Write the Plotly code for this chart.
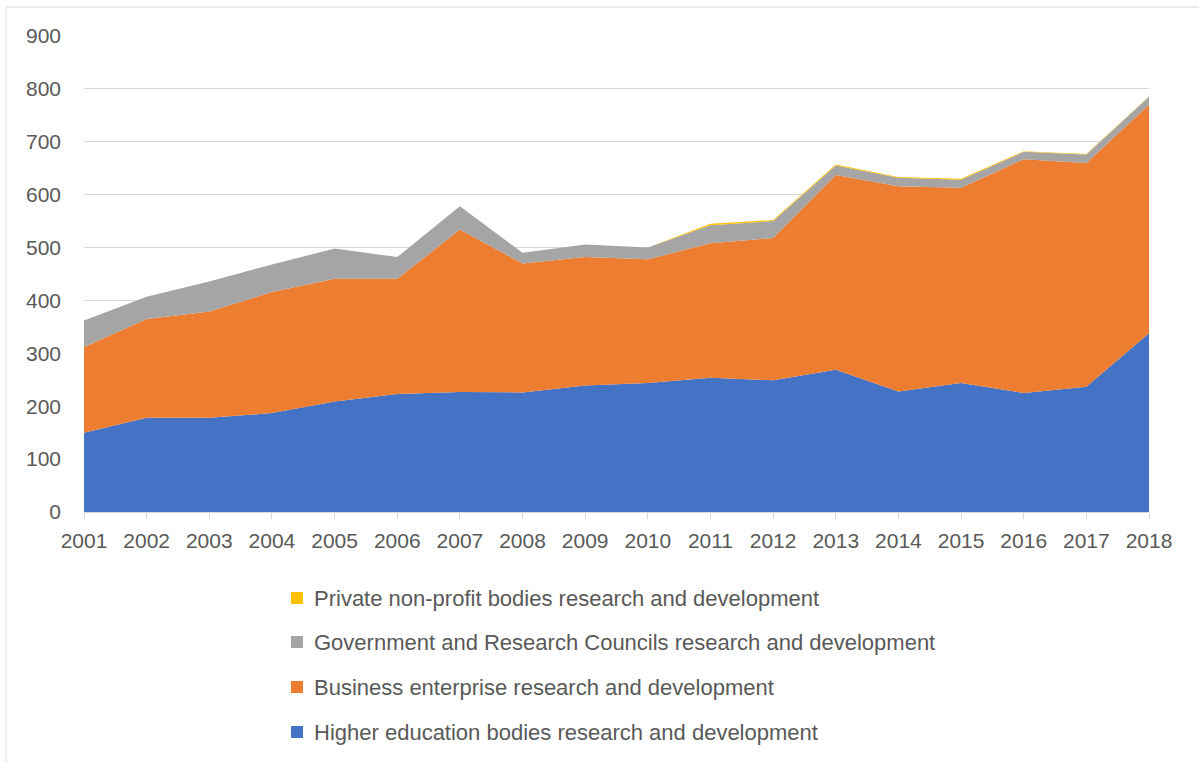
import plotly.graph_objects as go

years = [str(y) for y in range(2001, 2019)]
higher_ed = [150, 178, 178, 187, 209, 223, 227, 226, 239, 244, 254, 249, 269, 228, 244, 225, 237, 338]
business = [162, 187, 201, 229, 232, 218, 307, 244, 243, 234, 254, 269, 368, 388, 369, 442, 423, 432]
government = [50, 42, 57, 52, 57, 41, 44, 20, 24, 22, 34, 32, 18, 16, 15, 14, 16, 15]
private_np = [0, 0, 0, 0, 0, 0, 0, 0, 0, 0, 3, 2, 2, 1.5, 2, 1, 1, 0.5]

names = [
    "Higher education bodies research and development",
    "Business enterprise research and development",
    "Government and Research Councils research and development",
    "Private non-profit bodies research and development",
]
colors = ["#4472C4", "#ED7D31", "#A5A5A5", "#FFC000"]
series = [higher_ed, business, government, private_np]

fig = go.Figure()
for name, col, vals in zip(names, colors, series):
    fig.add_trace(go.Scatter(
        x=years, y=vals, name=name, stackgroup="one", mode="lines",
        line=dict(width=0, color=col), fillcolor=col, showlegend=False,
        hoverinfo="x+y+name",
    ))

W, H = 1199, 762
L, R, T, B = 84, 1149, 36, 512
def px(x):
    return (x - L) / (R - L)
def py(y):
    return (B - y) / (B - T)

GRID = "#d9d9d9"
TXT = "#595959"

# legend drawn as key squares + text (top to bottom: reversed stacking order)
legend_rows = [598, 642, 687, 732]
shapes = [
    dict(type="line", xref="paper", yref="paper", x0=px(6), x1=px(1199), y0=py(7), y1=py(7),
         line=dict(color=GRID, width=1)),
    dict(type="line", xref="paper", yref="paper", x0=px(6), x1=px(6), y0=py(7), y1=py(775),
         line=dict(color=GRID, width=1)),
]
annotations = []
for yrow, name, col in zip(legend_rows, names[::-1], colors[::-1]):
    shapes.append(dict(type="rect", xref="paper", yref="paper",
                       x0=px(291), x1=px(303), y0=py(yrow - 6), y1=py(yrow + 6),
                       fillcolor=col, line=dict(width=0)))
    annotations.append(dict(xref="paper", yref="paper", x=px(312), y=py(yrow),
                            xanchor="left", yanchor="middle", showarrow=False,
                            text=name, font=dict(size=22, color=TXT)))

fig.update_layout(
    width=W, height=H,
    margin=dict(l=L, r=W - R, t=T, b=H - B),
    paper_bgcolor="white", plot_bgcolor="white",
    font=dict(family="Liberation Sans, Arial, sans-serif", size=21, color=TXT),
    showlegend=False,
    xaxis=dict(
        type="category", range=[0, 17], showgrid=False,
        showline=True, linecolor=GRID, linewidth=1,
        ticks="outside", ticklen=6, tickcolor=GRID, ticklabelstandoff=4,
        tickfont=dict(size=21, color=TXT),
    ),
    yaxis=dict(
        range=[0, 900], dtick=100, showgrid=True, gridcolor=GRID, gridwidth=1,
        zeroline=False, showline=False, ticks="", ticklabelstandoff=22,
        tickfont=dict(size=21, color=TXT),
    ),
    shapes=shapes,
    annotations=annotations,
)

fig.write_html("out.html", config={"displayModeBar": False},
               post_script="document.body.style.margin='0';")
